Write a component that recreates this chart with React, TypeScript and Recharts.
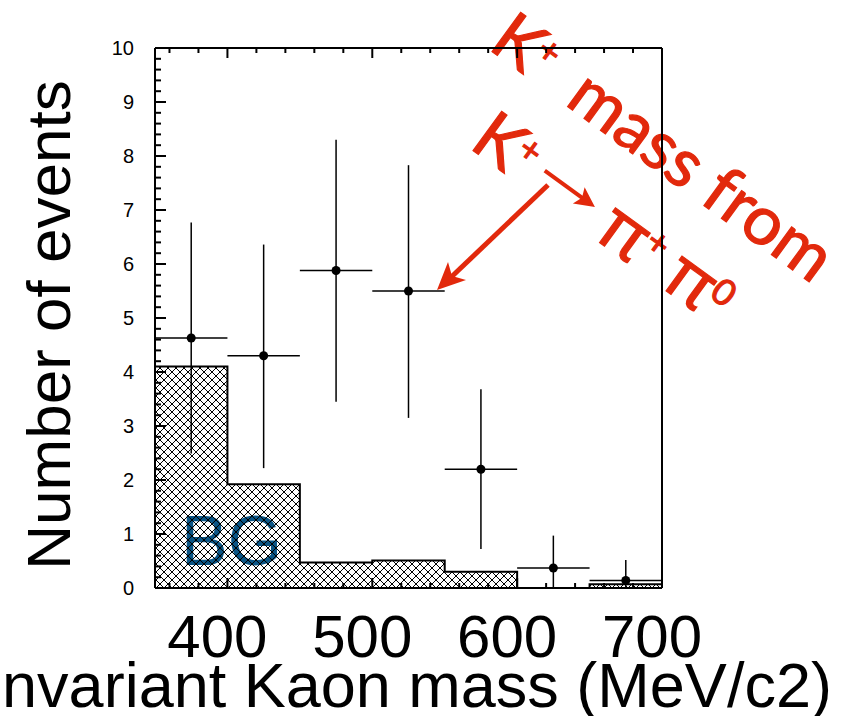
import { ComposedChart, Area, Scatter, ErrorBar, XAxis, YAxis } from 'recharts'

// background histogram (step values start at each bin edge, last repeats for the closing edge)
const binEdges = [350, 400, 450, 500, 550, 600, 650, 700]
const bgCounts = [4.1, 1.92, 0.47, 0.51, 0.3, 0, 0.07, 0.07]

// data points
const binCenters = [375, 425, 475, 525, 575, 625, 675]
const eventCounts = [4.63, 4.3, 5.88, 5.5, 2.2, 0.37, 0.14]
const errLow = [2.49, 2.22, 3.45, 3.15, 0.72, 0, 0]
const errHigh = [6.77, 6.36, 8.3, 7.83, 3.68, 0.97, 0.52]
const binHalfWidth = 25

const xMajorTicks = [400, 500, 600, 700]
const xMinorTicks = [360, 380, 420, 440, 460, 480, 520, 540, 560, 580, 620, 640, 660, 680]
const yMajorTicks = [0, 1, 2, 3, 4, 5, 6, 7, 8, 9, 10]

const xTicks = [...xMinorTicks, ...xMajorTicks].sort((a, b) => a - b)
const yTicks: number[] = []
yMajorTicks.forEach((m) => {
  yTicks.push(m)
  if (m < 10) [0.2, 0.4, 0.6, 0.8].forEach((f) => yTicks.push(Math.round((m + f) * 10) / 10))
})

const bgData = binEdges.map((x, i) => ({ x, bg: bgCounts[i] }))
const pointData = binCenters.map((x, i) => ({
  x,
  y: eventCounts[i],
  ey: [eventCounts[i] - errLow[i], errHigh[i] - eventCounts[i]],
  ex: binHalfWidth,
}))

const FONT = '"Liberation Sans", Arial, Helvetica, sans-serif'
const ANNOT_FONT = 'Lato, "Noto Sans", sans-serif'
const PI_FONT = '"Noto Sans", "DejaVu Sans", sans-serif'
const RED = '#e2290c'
const BLUE = '#0b5585'

const XTick = (props: any) => {
  const { x, y, payload, side } = props
  const major = xMajorTicks.includes(payload.value)
  const len = major ? 10 : 5
  const dir = side === 'bottom' ? -1 : 1
  return (
    <g>
      <line x1={x} x2={x} y1={y} y2={y + dir * len} stroke="#000" strokeWidth={2} />
      {side === 'bottom' && major && (
        <text x={x - 10} y={y + 69} textAnchor="middle" fontSize={60} fontFamily={FONT} fill="#000">
          {payload.value}
        </text>
      )}
    </g>
  )
}

const YTick = (props: any) => {
  const { x, y, payload, side } = props
  const major = yMajorTicks.includes(payload.value)
  const len = major ? 11 : 6
  const dir = side === 'left' ? 1 : -1
  return (
    <g>
      <line x1={x} x2={x + dir * len} y1={y} y2={y} stroke="#000" strokeWidth={2} />
      {side === 'left' && major && (
        <text x={x - 21} y={y + 7} textAnchor="end" fontSize={20} fontFamily={FONT} fill="#000">
          {payload.value}
        </text>
      )}
    </g>
  )
}

export default function App() {
  return (
    <div style={{ position: 'absolute', left: 0, top: 0, background: '#fff' }}>
      <ComposedChart
        width={843}
        height={716}
        data={bgData}
        margin={{ top: 40, right: 0, bottom: 0, left: 0 }}
      >
        <defs>
          <pattern id="hatch" width={8} height={8} patternUnits="userSpaceOnUse">
            <path d="M0,0 L8,8 M8,0 L0,8 M-2,6 L2,10 M6,-2 L10,2 M-2,2 L2,-2 M6,10 L10,6" stroke="#000" strokeWidth={1} />
          </pattern>
        </defs>

        <XAxis
          xAxisId={0}
          dataKey="x"
          type="number"
          domain={[350, 700]}
          ticks={xTicks}
          interval={0}
          height={128}
          tickSize={0}
          tickMargin={0}
          axisLine={{ stroke: '#000', strokeWidth: 2 }}
          tickLine={false}
          tick={<XTick side="bottom" />}
        />
        <XAxis
          xAxisId="top"
          orientation="top"
          dataKey="x"
          type="number"
          domain={[350, 700]}
          ticks={xTicks}
          interval={0}
          height={8}
          tickSize={0}
          tickMargin={0}
          axisLine={{ stroke: '#000', strokeWidth: 2 }}
          tickLine={false}
          tick={<XTick side="top" />}
        />
        <YAxis
          yAxisId={0}
          type="number"
          domain={[0, 10]}
          ticks={yTicks}
          interval={0}
          width={155}
          tickSize={0}
          tickMargin={0}
          axisLine={{ stroke: '#000', strokeWidth: 2 }}
          tickLine={false}
          tick={<YTick side="left" />}
        />
        <YAxis
          yAxisId="right"
          orientation="right"
          type="number"
          domain={[0, 10]}
          ticks={yTicks}
          interval={0}
          width={181}
          tickSize={0}
          tickMargin={0}
          axisLine={{ stroke: '#000', strokeWidth: 2 }}
          tickLine={false}
          tick={<YTick side="right" />}
        />

        <Area
          type="stepAfter"
          dataKey="bg"
          stroke="#000"
          strokeWidth={2}
          fill="url(#hatch)"
          fillOpacity={1}
          isAnimationActive={false}
        />
        <Scatter
          data={pointData}
          dataKey="y"
          fill="#000"
          isAnimationActive={false}
          shape={(p: any) => <circle cx={p.cx} cy={p.cy} r={4.5} fill="#000" />}
        >
          <ErrorBar dataKey="ey" direction="y" width={0} stroke="#000" strokeWidth={1.5} />
          <ErrorBar dataKey="ex" direction="x" width={0} stroke="#000" strokeWidth={1.5} />
        </Scatter>

        {/* titles and annotations */}
        <text x={417} y={707} textAnchor="middle" fontSize={63} fontFamily={FONT} fill="#000">
          nvariant Kaon mass (MeV/c2)
        </text>
        <text
          x={70}
          y={325}
          transform="rotate(-90 70 325)"
          textAnchor="middle"
          fontSize={62}
          fontFamily={FONT}
          fill="#000"
        >
          Number of events
        </text>
        <text x={181} y={565} fontSize={70} fontFamily={FONT} fill={BLUE}>
          BG
        </text>

        <g
          transform="translate(487 48) rotate(36)"
          fill={RED}
          stroke={RED}
          strokeWidth={1.2}
          fontFamily={ANNOT_FONT}
          fontSize={68}
        >
          <text x={0} y={0}>K</text>
          <text x={42} y={-22} fontSize={36}>+</text>
          <text x={95} y={0}>mass from</text>
        </g>
        <g
          transform="translate(468 147) rotate(36)"
          fill={RED}
          stroke={RED}
          strokeWidth={1.2}
          fontFamily={ANNOT_FONT}
          fontSize={68}
        >
          <text x={0} y={0}>K</text>
          <text x={42} y={-22} fontSize={36}>+</text>
          <line x1={76} y1={-26} x2={124} y2={-26} strokeWidth={4} />
          <path d="M138,-26 L118,-36 L122,-26 L118,-16 Z" strokeWidth={0} />
          <text x={154} y={0} fontFamily={PI_FONT} fontSize={70}>π</text>
          <text x={200} y={-22} fontSize={36}>+</text>
          <text x={236} y={0} fontFamily={PI_FONT} fontSize={70}>π</text>
          <text x={282} y={-20} fontSize={36}>0</text>
        </g>
        <line x1={548} y1={185} x2={445} y2={283} stroke={RED} strokeWidth={5} />
        <path d="M437,290 L448,262 L452,276 L466,280 Z" fill={RED} />
      </ComposedChart>
    </div>
  )
}
